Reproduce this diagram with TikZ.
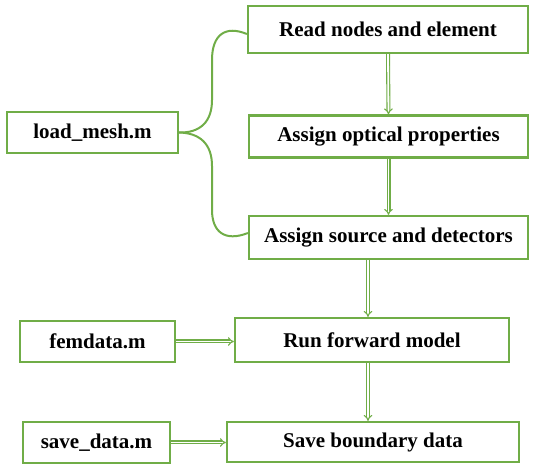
\documentclass[tikz,border=0pt]{standalone}
\usepackage{fontspec}
\setmainfont{Liberation Serif}
\usetikzlibrary{arrows.meta}
\definecolor{boxgreen}{HTML}{70AD47}
\begin{document}
\begin{tikzpicture}[x=1pt,y=-1pt,
  box/.style={draw=boxgreen, line width=2.2pt, fill=white, rectangle, inner sep=0pt,
    font=\fontsize{21}{24}\selectfont\bfseries, text=black},
  dbl/.style={draw=boxgreen, line width=1.1pt, double=white, double distance=1.8pt,
    -{Implies[length=6pt,width=9pt]}},
  brace/.style={draw=boxgreen, line width=2pt}]
\useasboundingbox (0,0) rectangle (550,468);
\node[box, minimum width=280pt, minimum height=47pt] (b1) at (388,29.5) {Read nodes and element};
\node[box, minimum width=279pt, minimum height=42pt] (b2) at (388.5,136.5) {Assign optical properties};
\node[box, minimum width=279pt, minimum height=43pt] (b3) at (388.5,237.5) {Assign source and detectors};
\node[box, minimum width=274pt, minimum height=44pt] (run) at (372,340) {Run forward model};
\node[box, minimum width=292pt, minimum height=40pt] (save) at (373,442) {Save boundary data};
\node[box, minimum width=171pt, minimum height=41pt] (lm) at (92.5,132.5) {load\_mesh.m};
\node[box, minimum width=155pt, minimum height=41pt] (fem) at (97.5,341.5) {femdata.m};
\node[box, minimum width=147pt, minimum height=41pt] (sd) at (96.5,442.5) {save\_data.m};
% brace
\draw[brace] ([yshift=-4.5pt]b1.west) .. controls (225,25) and (212,35) .. (212,60)
  -- (212,100) .. controls (212,122) and (200,133) .. (lm.east);
\draw[brace] (lm.east) .. controls (200,133) and (212,144) .. (212,166)
  -- (212,210) .. controls (212,232) and (225,242) .. ([yshift=4.5pt]b3.west);
% arrows
\draw[dbl] (b1.south) -- (b2.north);
\draw[dbl] (b2.south) -- (b3.north);
\draw[dbl] ([xshift=-4pt]run.north |- b3.south) -- ([xshift=-4pt]run.north);
\draw[dbl] ([xshift=-4pt]run.south) -- ([xshift=-4pt]run.south |- save.north);
\draw[dbl] (fem.east) -- (fem.east -| run.west);
\draw[dbl] (sd.east) -- (sd.east -| save.west);
\end{tikzpicture}
\end{document}
